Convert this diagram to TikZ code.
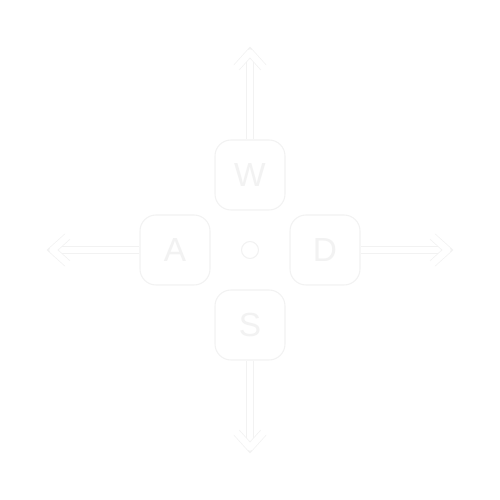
\documentclass[tikz,border=0pt]{standalone}
\usepackage{fontspec}
\setmainfont{Liberation Sans}
\usetikzlibrary{backgrounds}
\tikzset{
  keycap/.style = {
    rectangle, draw=black!5, line width=0.6pt, rounded corners=0.32cm,
    minimum width=1.4cm, minimum height=1.4cm, fill=white,
    text=black!5, font=\fontsize{19}{19}\selectfont
  },
  hub/.style = {
    circle, draw=black!5, line width=0.6pt, fill=white,
    minimum size=0.34cm, inner sep=0pt
  },
  shaft/.style = {
    draw=white, line width=0.13cm, line cap=round, line join=round,
    preaction={draw=black!5, line width=0.16cm}
  }
}

\begin{document}
\begin{tikzpicture}

    \useasboundingbox (-5,-5) rectangle (5,5);

    % ------------------------------------------------------------- Keys
    \node [keycap] (w) at ( 0,  1.5) {W};
    \node [keycap] (a) at (-1.5, 0)  {A};
    \node [keycap] (d) at ( 1.5, 0)  {D};
    \node [keycap] (s) at ( 0, -1.5) {S};
    \node [hub]    (c) at ( 0,  0)   {};

    % ------------------------------------------------------- Arrow tips
    \coordinate (up)    at ( 0,  3.95);
    \coordinate (down)  at ( 0, -3.95);
    \coordinate (left)  at (-3.95, 0);
    \coordinate (right) at ( 3.95, 0);

    % ------------------------------------------------- Arrows (behind keys)
    \begin{scope}[on background layer]

      % -------- shafts
      \draw [shaft] (w.north) -- (up);
      \draw [shaft] (s.south) -- (down);
      \draw [shaft] (a.west)  -- (left);
      \draw [shaft] (d.east)  -- (right);

      % -------- heads
      \draw [shaft] ([shift={(-0.27,-0.3)}]up)    -- (up)    -- ([shift={( 0.27,-0.3)}]up);
      \draw [shaft] ([shift={(-0.27, 0.3)}]down)  -- (down)  -- ([shift={( 0.27, 0.3)}]down);
      \draw [shaft] ([shift={( 0.3, 0.27)}]left)  -- (left)  -- ([shift={( 0.3,-0.27)}]left);
      \draw [shaft] ([shift={(-0.3, 0.27)}]right) -- (right) -- ([shift={(-0.3,-0.27)}]right);

    \end{scope}

\end{tikzpicture}
\end{document}
